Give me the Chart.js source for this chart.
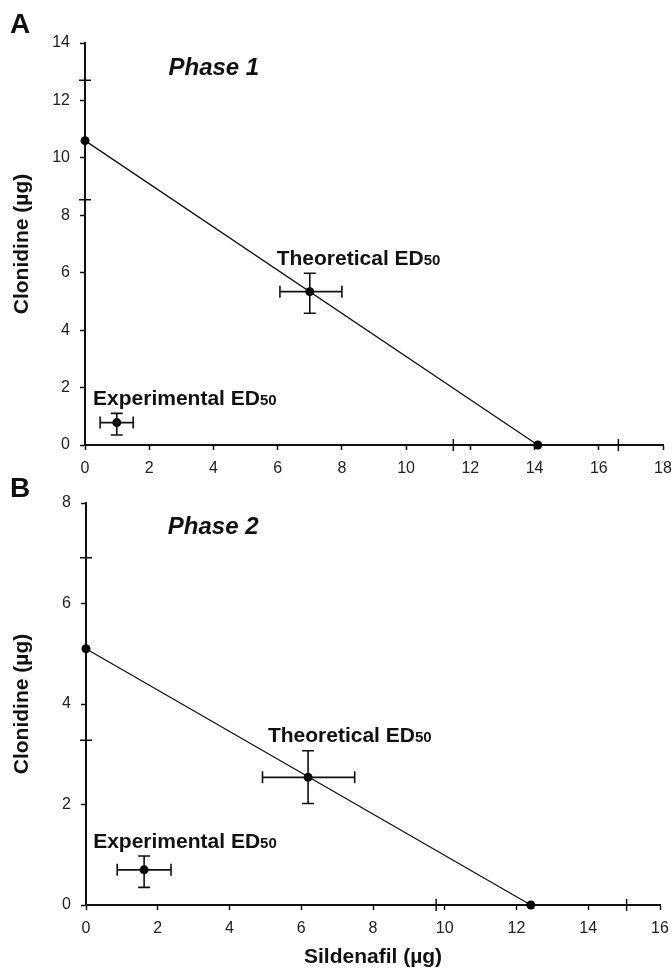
<!DOCTYPE html>
<html>
<head>
<meta charset="utf-8">
<title>Clonidine / Sildenafil isobolograms</title>
<script src="https://cdn.jsdelivr.net/npm/chart.js@4.4.1/dist/chart.umd.min.js"></script>
<style>
  html, body { margin: 0; padding: 0; background: #fff; }
  body { width: 672px; height: 970px; position: relative; overflow: hidden; }
  canvas { position: absolute; left: 0; }
  #phase1 { top: 0; }
  #phase2 { top: 460px; }
</style>
</head>
<body>
<canvas id="phase1" width="672" height="480"></canvas>
<canvas id="phase2" width="672" height="510"></canvas>
<script>
// ---- Phase 1 data (µg) ----
const p1LineX = [0, 14.1];
const p1LineY = [10.6, 0];
const p1EdNames = ['Theoretical ED', 'Experimental ED'];
const p1EdX = [7.0, 0.99];
const p1EdY = [5.34, 0.78];
const p1EdXLow = [6.07, 0.47];
const p1EdXHigh = [8.0, 1.5];
const p1EdYLow = [4.59, 0.35];
const p1EdYHigh = [5.98, 1.1];
const p1CrossX = [11.47, 16.61];   // stray tick marks on the axes
const p1CrossY = [8.54, 12.7];

// ---- Phase 2 data (µg) ----
const p2LineX = [0, 12.4];
const p2LineY = [5.1, 0];
const p2EdNames = ['Theoretical ED', 'Experimental ED'];
const p2EdX = [6.19, 1.62];
const p2EdY = [2.54, 0.7];
const p2EdXLow = [4.92, 0.87];
const p2EdXHigh = [7.49, 2.37];
const p2EdYLow = [2.02, 0.35];
const p2EdYHigh = [3.07, 0.975];
const p2CrossX = [9.76, 15.07];
const p2CrossY = [3.28, 6.91];

// axis ranges
const p1XMax = 18, p1YMax = 14;
const p2XMax = 16, p2YMax = 8;
const tickStep = 2;

const FONT = '"Liberation Sans", Arial, Helvetica, sans-serif';
Chart.defaults.font.family = FONT;

// error bars, stray ticks, text labels
const isoPlugin = {
  id: 'iso',
  afterDatasetsDraw(chart, args, o) {
    const { ctx, scales: { x, y } } = chart;
    ctx.save();
    ctx.strokeStyle = '#111';
    ctx.lineWidth = 1.6;
    o.edX.forEach((v, i) => {
      const px = x.getPixelForValue(v), py = y.getPixelForValue(o.edY[i]);
      const xl = x.getPixelForValue(o.edXLow[i]), xh = x.getPixelForValue(o.edXHigh[i]);
      const yl = y.getPixelForValue(o.edYLow[i]), yh = y.getPixelForValue(o.edYHigh[i]);
      ctx.beginPath();
      ctx.moveTo(xl, py); ctx.lineTo(xh, py);
      ctx.moveTo(xl, py - 6); ctx.lineTo(xl, py + 6);
      ctx.moveTo(xh, py - 6); ctx.lineTo(xh, py + 6);
      ctx.moveTo(px, yl); ctx.lineTo(px, yh);
      ctx.moveTo(px - 6, yl); ctx.lineTo(px + 6, yl);
      ctx.moveTo(px - 6, yh); ctx.lineTo(px + 6, yh);
      ctx.stroke();
    });
    ctx.restore();
  },
  afterDraw(chart, args, o) {
    const { ctx, scales: { x, y }, chartArea } = chart;
    ctx.save();
    // stray ticks crossing the axes
    ctx.strokeStyle = '#111';
    ctx.lineWidth = 1.5;
    ctx.beginPath();
    o.crossX.forEach(v => {
      const px = x.getPixelForValue(v);
      ctx.moveTo(px, chartArea.bottom - 6); ctx.lineTo(px, chartArea.bottom + 6);
    });
    o.crossY.forEach(v => {
      const py = y.getPixelForValue(v);
      ctx.moveTo(chartArea.left - 6, py); ctx.lineTo(chartArea.left + 6, py);
    });
    ctx.stroke();

    ctx.fillStyle = '#111';
    ctx.textBaseline = 'alphabetic';
    ctx.textAlign = 'left';
    // ED50 labels
    o.names.forEach((name, i) => {
      const lx = x.getPixelForValue(o.labelPos[i][0]);
      const ly = y.getPixelForValue(o.labelPos[i][1]);
      ctx.font = 'bold 21px ' + FONT;
      ctx.fillText(name, lx, ly);
      const w = ctx.measureText(name).width;
      ctx.font = 'bold 15px ' + FONT;
      ctx.fillText('50', lx + w, ly);
    });
    // phase title
    ctx.font = 'italic bold 24px ' + FONT;
    ctx.fillText(o.phase, x.getPixelForValue(o.phasePos[0]), y.getPixelForValue(o.phasePos[1]));
    // panel letter
    ctx.font = 'bold 28px ' + FONT;
    ctx.fillText(o.letter, 10, o.letterY);
    ctx.restore();
  }
};

function makeChart(id, c) {
  return new Chart(document.getElementById(id), {
    type: 'scatter',
    data: {
      datasets: [
        {
          data: c.lineX.map((v, i) => ({ x: v, y: c.lineY[i] })),
          showLine: true,
          clip: false,
          borderColor: '#111',
          borderWidth: 1.3,
          pointRadius: 4.5,
          pointBackgroundColor: '#000',
          pointBorderWidth: 0
        },
        {
          data: c.edX.map((v, i) => ({ x: v, y: c.edY[i] })),
          showLine: false,
          clip: false,
          pointRadius: 4.5,
          pointBackgroundColor: '#000',
          pointBorderWidth: 0
        }
      ]
    },
    options: {
      responsive: false,
      animation: false,
      devicePixelRatio: 1,
      layout: { padding: { top: c.padTop, right: c.padRight, left: 0, bottom: 0 } },
      plugins: {
        legend: { display: false },
        tooltip: { enabled: false },
        iso: c.iso
      },
      scales: {
        x: {
          type: 'linear', min: 0, max: c.xMax,
          ticks: { stepSize: tickStep, padding: 9, color: '#222', font: { size: 16 } },
          grid: { drawOnChartArea: false, drawTicks: true, tickLength: 5, tickColor: '#111', tickWidth: 1.5 },
          border: { color: '#111', width: 2 },
          title: {
            display: !!c.xTitle, text: c.xTitle || '',
            color: '#111', font: { size: 21, weight: 'bold' }, padding: { top: 0, bottom: 0 }
          },
          afterFit(s) { s.height = c.xHeight; s.paddingLeft = 0; s.paddingRight = 0; }
        },
        y: {
          type: 'linear', min: 0, max: c.yMax,
          ticks: { stepSize: tickStep, padding: 10, color: '#222', font: { size: 16 } },
          grid: { drawOnChartArea: false, drawTicks: true, tickLength: 5, tickColor: '#111', tickWidth: 1.5 },
          border: { color: '#111', width: 2 },
          title: {
            display: true, text: 'Clonidine (µg)',
            color: '#111', font: { size: 21, weight: 'bold' }, padding: { top: 10, bottom: 0 }
          },
          afterFit(s) { s.width = c.yWidth; s.paddingTop = 0; s.paddingBottom = 0; }
        }
      }
    },
    plugins: [isoPlugin]
  });
}

makeChart('phase1', {
  lineX: p1LineX, lineY: p1LineY, edX: p1EdX, edY: p1EdY,
  xMax: p1XMax, yMax: p1YMax,
  padTop: 43, padRight: 9, xHeight: 35, yWidth: 85,
  iso: {
    edX: p1EdX, edY: p1EdY, edXLow: p1EdXLow, edXHigh: p1EdXHigh, edYLow: p1EdYLow, edYHigh: p1EdYHigh,
    crossX: p1CrossX, crossY: p1CrossY,
    names: p1EdNames, labelPos: [[5.97, 6.27], [0.25, 1.39]],
    phase: 'Phase 1', phasePos: [2.6, 12.9],
    letter: 'A', letterY: 33
  }
});

makeChart('phase2', {
  lineX: p2LineX, lineY: p2LineY, edX: p2EdX, edY: p2EdY,
  xMax: p2XMax, yMax: p2YMax, xTitle: 'Sildenafil (µg)',
  padTop: 43, padRight: 12, xHeight: 65, yWidth: 86,
  iso: {
    edX: p2EdX, edY: p2EdY, edXLow: p2EdXLow, edXHigh: p2EdXHigh, edYLow: p2EdYLow, edYHigh: p2EdYHigh,
    crossX: p2CrossX, crossY: p2CrossY,
    names: p2EdNames, labelPos: [[5.07, 3.25], [0.2, 1.13]],
    phase: 'Phase 2', phasePos: [2.28, 7.38],
    letter: 'B', letterY: 37
  }
});
</script>
</body>
</html>
